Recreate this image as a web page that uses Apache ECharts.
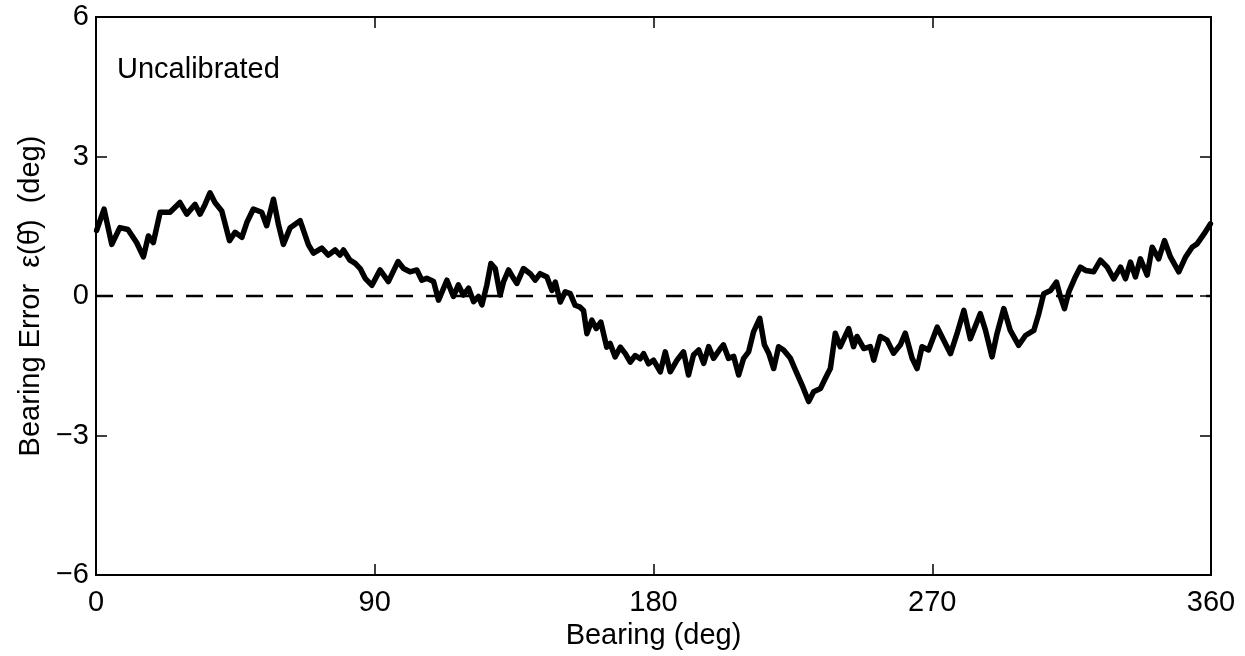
<!DOCTYPE html>
<html>
<head>
<meta charset="utf-8">
<script src="https://cdn.jsdelivr.net/npm/echarts@6/dist/echarts.min.js"></script>
<style>
  html, body { margin: 0; padding: 0; background: #fff; }
  #chart { width: 1245px; height: 656px; }
</style>
</head>
<body>
<div id="chart"></div>
<script>
var bearingDeg = [
  0.2, 2.6, 5.1, 7.7, 10.3, 13.1, 15.3, 16.9, 18.5, 20.7, 23.9, 27.1, 29.3, 32.0, 33.6, 35.2, 36.8, 38.4, 40.6,
  43.1, 44.9, 47.1, 48.7, 50.8, 53.5, 55.1, 57.3, 58.9, 60.5, 62.7, 65.9, 68.6, 70.2, 72.9, 75.0, 77.2, 78.8,
  79.9, 82.0, 83.7, 85.3, 86.9, 89.1, 91.7, 94.4, 97.5, 99.3, 101.4, 103.6, 105.2, 106.8, 109.0, 110.6, 113.3,
  115.4, 117.0, 118.6, 120.3, 121.9, 123.5, 124.6, 126.2, 127.5, 128.9, 130.5, 131.6, 133.2, 134.8, 135.9,
  138.0, 140.2, 141.8, 143.4, 145.6, 147.2, 148.3, 149.9, 151.5, 153.1, 154.7, 156.3, 157.4, 158.5, 160.1,
  161.5, 163.0, 164.9, 166.0, 167.6, 169.3, 170.9, 172.5, 174.1, 175.7, 176.8, 178.4, 180.0, 182.2, 183.8,
  185.4, 187.6, 189.7, 191.3, 192.9, 194.6, 196.2, 197.8, 199.4, 201.6, 202.6, 204.2, 205.9, 207.5, 209.1,
  210.7, 212.3, 214.3, 215.8, 217.2, 218.8, 220.4, 222.0, 224.2, 225.8, 228.0, 230.1, 231.7, 233.9, 235.5,
  237.1, 238.7, 240.3, 243.0, 244.6, 245.7, 247.9, 250.0, 251.1, 253.2, 255.4, 257.5, 259.7, 261.3, 263.5,
  265.1, 266.7, 268.8, 271.6, 273.7, 275.9, 278.0, 280.2, 282.3, 285.5, 287.2, 289.3, 290.9, 293.1, 295.2,
  297.9, 300.1, 302.8, 304.4, 306.0, 308.2, 310.1, 311.4, 312.7, 314.1, 316.2, 317.8, 319.5, 322.1, 324.3,
  326.5, 328.6, 330.8, 332.4, 334.0, 335.6, 337.2, 339.4, 341.0, 343.1, 345.0, 346.9, 349.6, 351.8, 353.9,
  355.5, 357.7, 359.8
];
var bearingError = [
  1.41, 1.87, 1.11, 1.47, 1.43, 1.15, 0.84, 1.29, 1.15, 1.80, 1.80, 2.01, 1.76, 1.97, 1.76, 1.97, 2.22, 2.01, 1.83,
  1.19, 1.37, 1.26, 1.58, 1.87, 1.80, 1.51, 2.08, 1.54, 1.11, 1.47, 1.62, 1.10, 0.92, 1.03, 0.88, 0.99, 0.88,
  0.99, 0.77, 0.70, 0.59, 0.38, 0.23, 0.56, 0.31, 0.74, 0.59, 0.52, 0.56, 0.34, 0.38, 0.31, -0.09, 0.34,
  -0.01, 0.24, 0.02, 0.17, -0.12, -0.01, -0.19, 0.24, 0.70, 0.59, 0.02, 0.31, 0.56, 0.38, 0.27,
  0.59, 0.48, 0.34, 0.48, 0.41, 0.12, 0.30, -0.13, 0.09, 0.05, -0.20, -0.24, -0.31, -0.81, -0.52,
  -0.70, -0.56, -1.10, -1.02, -1.31, -1.10, -1.24, -1.42, -1.28, -1.35, -1.24, -1.46, -1.38, -1.63, -1.20,
  -1.63, -1.38, -1.20, -1.70, -1.27, -1.16, -1.45, -1.09, -1.34, -1.13, -1.05, -1.34, -1.30, -1.70, -1.34,
  -1.20, -0.77, -0.48, -1.05, -1.23, -1.56, -1.09, -1.16, -1.34, -1.59, -1.92, -2.27, -2.06, -1.99, -1.77,
  -1.56, -0.80, -1.09, -0.70, -1.09, -0.87, -1.13, -1.09, -1.38, -0.87, -0.95, -1.23, -1.05, -0.80, -1.34,
  -1.56, -1.09, -1.16, -0.67, -0.95, -1.24, -0.81, -0.31, -0.92, -0.38, -0.74, -1.31, -0.81, -0.27, -0.74,
  -1.06, -0.85, -0.74, -0.38, 0.05, 0.12, 0.30, -0.02, -0.27, 0.09, 0.41, 0.62, 0.55, 0.52, 0.77,
  0.62, 0.37, 0.62, 0.37, 0.73, 0.41, 0.80, 0.45, 1.05, 0.80, 1.19, 0.84, 0.52, 0.84, 1.05,
  1.12, 1.33, 1.55
];
var zeroLineX = [0, 360];
var zeroLineY = [0, 0];

var font = 'Liberation Sans, Arial, Helvetica, sans-serif';

function pairs(xs, ys) {
  var out = [];
  for (var i = 0; i < xs.length; i++) out.push([xs[i], ys[i]]);
  return out;
}
function minusFmt(v) {
  return v < 0 ? '\u2212' + Math.abs(v) : String(v);
}

var axisText = { color: '#000', fontFamily: font, fontSize: 29 };
var frameLine = { show: true, onZero: false, lineStyle: { color: '#000', width: 2 } };
var inTick = { show: true, inside: true, length: 11, lineStyle: { color: '#000', width: 1.5 } };

var option = {
  animation: false,
  backgroundColor: '#fff',
  title: {
    text: 'Uncalibrated',
    left: 112,
    top: 50,
    textStyle: { color: '#000', fontFamily: font, fontSize: 29, fontWeight: 'normal' }
  },
  grid: {
    left: 96, right: 34, top: 17, bottom: 81,
    show: true, borderColor: '#000', borderWidth: 2, backgroundColor: 'transparent'
  },
  xAxis: [{
    type: 'value', min: 0, max: 360, interval: 90,
    name: 'Bearing (deg)', nameLocation: 'middle', nameGap: 44,
    nameTextStyle: axisText,
    axisLine: frameLine,
    axisTick: inTick,
    axisLabel: Object.assign({ margin: 13 }, axisText),
    splitLine: { show: false }
  }, {
    type: 'value', min: 0, max: 360, interval: 90, position: 'top',
    axisLine: frameLine,
    axisTick: inTick,
    axisLabel: { show: false },
    splitLine: { show: false }
  }],
  yAxis: [{
    type: 'value', min: -6, max: 6, interval: 3,
    name: 'Bearing Error  \u03b5(\u03b8\u0302)  (deg)', nameLocation: 'middle', nameGap: 40,
    nameTextStyle: axisText,
    axisLine: frameLine,
    axisTick: inTick,
    axisLabel: Object.assign({ margin: 7, formatter: minusFmt }, axisText),
    splitLine: { show: false }
  }, {
    type: 'value', min: -6, max: 6, interval: 3, position: 'right',
    axisLine: frameLine,
    axisTick: inTick,
    axisLabel: { show: false },
    splitLine: { show: false }
  }],
  series: [{
    name: 'zero',
    type: 'line',
    data: pairs(zeroLineX, zeroLineY),
    symbol: 'none',
    lineStyle: { color: '#000', width: 2.5, type: [17, 13] },
    silent: true
  }, {
    name: 'error',
    type: 'line',
    data: pairs(bearingDeg, bearingError),
    symbol: 'none',
    smooth: false,
    lineStyle: { color: '#000', width: 5.5, join: 'round', cap: 'round' }
  }]
};

var myChart = echarts.init(document.getElementById('chart'));
myChart.setOption(option);
</script>
</body>
</html>
